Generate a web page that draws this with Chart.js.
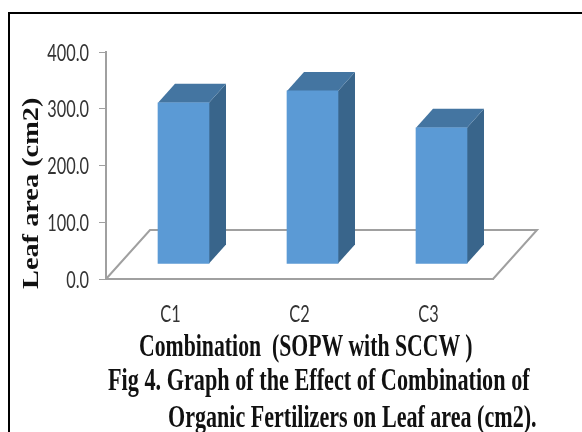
<!DOCTYPE html>
<html>
<head>
<meta charset="utf-8">
<script src="https://cdn.jsdelivr.net/npm/chart.js@4/dist/chart.umd.min.js"></script>
<style>
  html, body { margin: 0; padding: 0; background: #fff; }
  #wrap { position: relative; width: 582px; height: 432px; overflow: hidden; }
  #frameTop { position: absolute; left: 8px; top: 12px; width: 574px; height: 2px; background: #000; }
  #frameLeft { position: absolute; left: 8px; top: 12px; width: 2px; height: 420px; background: #000; }
  canvas { position: absolute; left: 0; top: 0; }
  .cap { position: absolute; white-space: pre; font-family: "Liberation Serif", serif; font-weight: bold; color: #111; transform-origin: 0 0; }
</style>
</head>
<body>
<div id="wrap">
  <div id="frameTop"></div>
  <div id="frameLeft"></div>
  <canvas id="leafChart" width="582" height="432"></canvas>
  <div class="cap" style="left:17px;top:289px;font-size:24px;transform:rotate(-90deg) scaleX(1.18)">Leaf area (cm2)</div>
  <div class="cap" style="left:139px;top:327px;font-size:32px;transform:scaleX(0.68)">Combination  (SOPW with SCCW )</div>
  <div class="cap" style="left:108px;top:362px;font-size:31px;transform:scaleX(0.717)">Fig 4. Graph of the Effect of Combination of</div>
  <div class="cap" style="left:168px;top:399px;font-size:31px;transform:scaleX(0.712)">Organic Fertilizers on Leaf area (cm2).</div>
</div>
<script>
const categories = ["C1", "C2", "C3"];
const leafArea = [284, 305, 240];
const yTicks = [0, 100, 200, 300, 400];

// how far the bars sit back from the axis plane, and how deep they are
const floorDx = 44, floorDy = -49;
const barShiftX = 13, barShiftY = -15;
const depthX = 17, depthY = -19;

function poly(ctx, pts, fill) {
  ctx.beginPath();
  pts.forEach((p, i) => (i ? ctx.lineTo(p[0], p[1]) : ctx.moveTo(p[0], p[1])));
  ctx.closePath();
  ctx.fillStyle = fill;
  ctx.fill();
}

// tick text in the picture is squeezed sideways, so it is drawn here
function squeezedText(ctx, text, x, y, align) {
  ctx.save();
  ctx.translate(x, y);
  ctx.scale(0.68, 1);
  ctx.font = "24px Lato";
  ctx.fillStyle = "#333";
  ctx.textAlign = align;
  ctx.textBaseline = "middle";
  ctx.fillText(text, 0, 0);
  ctx.restore();
}

const fake3d = {
  id: "fake3d",
  beforeDatasetsDraw(chart) {
    const { ctx, chartArea: a } = chart;
    ctx.save();
    ctx.strokeStyle = "#a0a0a0";
    ctx.lineWidth = 2;
    ctx.beginPath();
    ctx.moveTo(a.left, a.bottom);
    ctx.lineTo(a.left + floorDx, a.bottom + floorDy);
    ctx.lineTo(a.right + floorDx, a.bottom + floorDy);
    ctx.lineTo(a.right, a.bottom);
    ctx.stroke();
    ctx.restore();
  },
  beforeDatasetDraw(chart) {
    const ctx = chart.ctx;
    ctx.save();
    ctx.translate(barShiftX, barShiftY);
    chart.getDatasetMeta(0).data.forEach((bar) => {
      const l = bar.x - bar.width / 2, r = bar.x + bar.width / 2;
      poly(ctx, [[r, bar.y], [r + depthX, bar.y + depthY], [r + depthX, bar.base + depthY], [r, bar.base]], "#39658b");
      poly(ctx, [[l, bar.y], [l + depthX, bar.y + depthY], [r + depthX, bar.y + depthY], [r, bar.y]], "#4475a1");
    });
  },
  afterDatasetDraw(chart) {
    chart.ctx.restore();
  },
  afterDraw(chart) {
    const { ctx, scales } = chart;
    yTicks.forEach((v) => {
      squeezedText(ctx, v.toFixed(1), scales.y.left + 83, scales.y.getPixelForValue(v) + 1, "right");
    });
    categories.forEach((c, i) => {
      squeezedText(ctx, c, scales.x.getPixelForValue(i), scales.x.top + 35, "center");
    });
  },
};

new Chart(document.getElementById("leafChart").getContext("2d"), {
  type: "bar",
  data: {
    labels: categories,
    datasets: [
      {
        label: "Leaf area",
        data: leafArea,
        backgroundColor: "#5b9ad5",
        barThickness: 51,
      },
    ],
  },
  plugins: [fake3d],
  options: {
    responsive: false,
    animation: false,
    layout: { padding: { left: 6, top: 52, right: 89, bottom: 103 } },
    plugins: { legend: { display: false }, tooltip: { enabled: false } },
    scales: {
      x: {
        grid: { display: false, drawTicks: false },
        border: { color: "#a0a0a0", width: 2 },
        ticks: { display: false },
        afterFit(s) { s.height = 50; },
      },
      y: {
        min: 0,
        max: 400,
        afterBuildTicks(s) { s.ticks = yTicks.map((v) => ({ value: v })); },
        grid: { display: true, drawOnChartArea: false, drawTicks: true, tickLength: 7, tickColor: "#a0a0a0" },
        border: { color: "#a0a0a0", width: 2 },
        ticks: { display: false },
        afterFit(s) { s.width = 100; },
      },
    },
  },
});
</script>
</body>
</html>
